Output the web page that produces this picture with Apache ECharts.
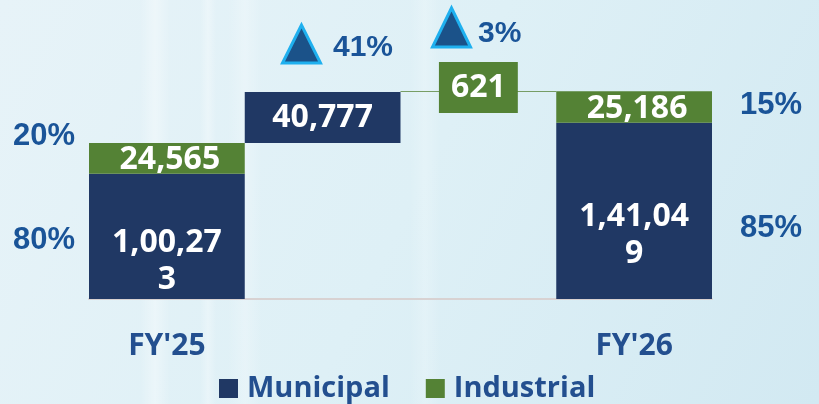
<!DOCTYPE html>
<html>
<head>
<meta charset="utf-8">
<script src="https://cdn.jsdelivr.net/npm/echarts@6/dist/echarts.min.js"></script>
<style>
html,body{margin:0;padding:0;}
#c{width:819px;height:404px;}
</style>
</head>
<body>
<div id="c"></div>
<script>
// ---- data ----
var categories = ["FY'25", "", "", "FY'26"];
var municipal = [100273, 40777, null, 141049];
var industrial = [24565, null, 621, 25186];
var sharesFY25 = { municipal: 80, industrial: 20 };
var sharesFY26 = { municipal: 85, industrial: 15 };
var growth = { municipal: 41, industrial: 3 };

// invisible base for the floating (waterfall) bars
var fy25Total = municipal[0] + industrial[0];
var base = [0, fy25Total, fy25Total + municipal[1], 0];

var NAVY = '#203864', GREEN = '#548235', TXT = '#1a5498', LEG = '#234f8f';

function indian(n) {
  var s = String(Math.round(n));
  if (s.length <= 3) return s;
  var last3 = s.slice(-3), rest = s.slice(0, -3);
  rest = rest.replace(/\B(?=(\d{2})+(?!\d))/g, ',');
  return rest + ',' + last3;
}
function wrap7(s) { return s.length > 7 ? s.slice(0, 7) + '\n' + s.slice(7) : s; }

var chart = echarts.init(document.getElementById('c'));
var valFont = { fontFamily: 'Open Sans', fontWeight: 700, fontSize: 32, color: '#fff' };

function streak(x, w, op) {
  return { type: 'rect', z: -10, silent: true, shape: { x: x, y: 0, width: w, height: 404 },
    style: { fill: { type: 'linear', x: 0, y: 0, x2: 1, y2: 0, colorStops: [
      { offset: 0, color: 'rgba(255,255,255,0)' },
      { offset: 0.5, color: 'rgba(255,255,255,' + op + ')' },
      { offset: 1, color: 'rgba(255,255,255,0)' } ] } } };
}

chart.setOption({
  animation: false,
  backgroundColor: {
    type: 'linear', x: 0, y: 0, x2: 1, y2: 1,
    colorStops: [
      { offset: 0, color: '#e7f3f8' },
      { offset: 0.5, color: '#def0f6' },
      { offset: 1, color: '#d2e9f2' }
    ]
  },
  grid: { left: 89, right: 107, top: 49, bottom: 105 },
  xAxis: {
    type: 'category',
    data: categories,
    axisLine: { lineStyle: { color: '#d8d2d2', width: 2 } },
    axisTick: { show: false },
    axisLabel: {
      interval: 0, margin: 32,
      fontFamily: 'Open Sans', fontWeight: 700, fontSize: 30, color: LEG
    }
  },
  yAxis: { type: 'value', min: 0, max: 200000, show: false, splitLine: { show: false } },
  legend: {
    data: ['Municipal', 'Industrial'],
    left: 214, top: 369,
    icon: 'rect', itemWidth: 19, itemHeight: 19, itemGap: 36,
    textStyle: { fontFamily: 'Open Sans', fontWeight: 700, fontSize: 29, color: LEG, padding: [0, 0, 0, 4] }
  },
  series: [
    {
      name: 'base', type: 'bar', stack: 'w', data: base, barWidth: '100%',
      itemStyle: { color: 'transparent' }, silent: true
    },
    {
      name: 'Municipal', type: 'bar', stack: 'w', barWidth: '100%',
      itemStyle: { color: NAVY },
      data: municipal.map(function (v, i) {
        if (v == null) return '-';
        var o = { value: v };
        if (i !== 1) o.label = { offset: [0, 25] };
        return o;
      }),
      label: Object.assign({
        show: true, position: 'inside', lineHeight: 37,
        formatter: function (p) { return wrap7(indian(p.value)); }
      }, valFont)
    },
    {
      name: 'Industrial', type: 'bar', stack: 'w', barWidth: '100%',
      itemStyle: { color: GREEN },
      data: industrial.map(function (v, i) {
        if (v == null) return '-';
        var o = { value: v };
        if (i === 2) {
          o.label = {
            backgroundColor: GREEN, padding: [12, 12, 7, 12], lineHeight: 32,
            offset: [0, -4]
          };
        } else {
          o.label = { offset: [3, 2] };
        }
        return o;
      }),
      label: Object.assign({
        show: true, position: 'inside',
        formatter: function (p) { return indian(p.value); }
      }, valFont)
    }
  ],
  graphic: [
    streak(140, 30, 0.35),
    streak(200, 16, 0.3),
    streak(228, 34, 0.25),
    streak(410, 30, 0.2),
    { type: 'text', left: 13, top: 121, style: { text: sharesFY25.industrial + '%', font: 'bold 31px "Liberation Sans"', fill: TXT } },
    { type: 'text', left: 13, top: 225, style: { text: sharesFY25.municipal + '%', font: 'bold 31px "Liberation Sans"', fill: TXT } },
    { type: 'text', left: 740, top: 90, style: { text: sharesFY26.industrial + '%', font: 'bold 31px "Liberation Sans"', fill: TXT } },
    { type: 'text', left: 740, top: 213, style: { text: sharesFY26.municipal + '%', font: 'bold 31px "Liberation Sans"', fill: TXT } },
    { type: 'polygon', shape: { points: [[301.5, 25], [282.5, 63], [320.5, 63]] }, style: { fill: '#1b5289', stroke: '#1fb0ef', lineWidth: 3 } },
    { type: 'polygon', shape: { points: [[451.5, 8], [432.5, 47], [470.5, 47]] }, style: { fill: '#1b5289', stroke: '#1fb0ef', lineWidth: 3 } },
    { type: 'text', left: 333, top: 33, style: { text: growth.municipal + '%', font: 'bold 30px "Liberation Sans"', fill: TXT } },
    { type: 'text', left: 478, top: 19, style: { text: growth.industrial + '%', font: 'bold 30px "Liberation Sans"', fill: TXT } }
  ]
});
</script>
</body>
</html>
